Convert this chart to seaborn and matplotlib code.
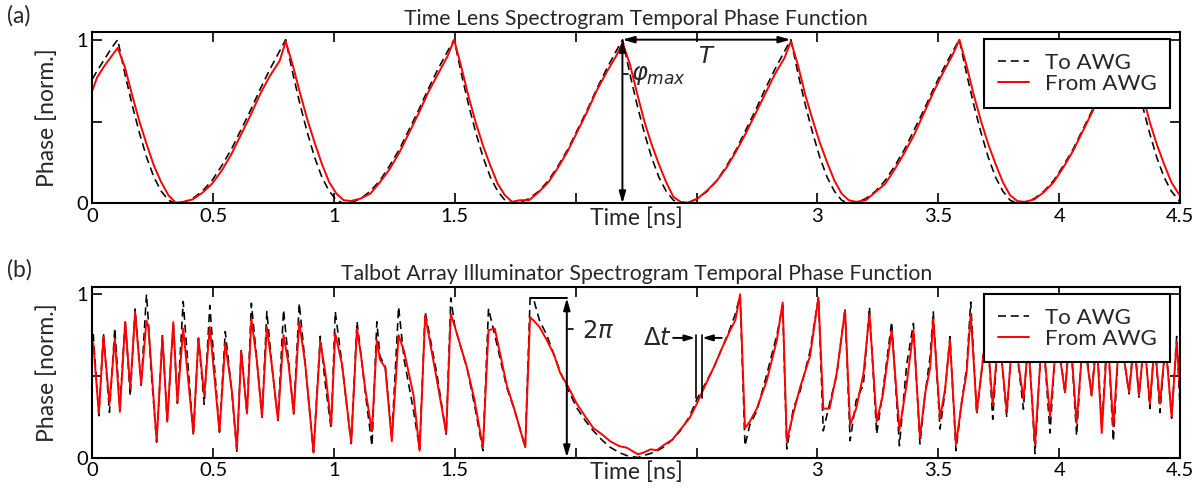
import numpy as np
import matplotlib
matplotlib.use("Agg")
import matplotlib.pyplot as plt
import seaborn as sns

# ---------------- data ----------------
# Panel (a): time lens phase
ta = [0.0, 0.02, 0.05, 0.08,
      0.105, 0.135, 0.165, 0.195, 0.225, 0.255, 0.285, 0.315, 0.345, 0.375,
      0.415, 0.455, 0.495, 0.535, 0.575, 0.615, 0.655, 0.695, 0.735, 0.775,
      0.80, 0.83, 0.86, 0.89, 0.92, 0.95, 0.98, 1.01, 1.04, 1.07,
      1.11, 1.15, 1.19, 1.23, 1.27, 1.31, 1.35, 1.39, 1.43, 1.47,
      1.497, 1.527, 1.557, 1.587, 1.617, 1.647, 1.677, 1.707, 1.737, 1.767,
      1.807, 1.847, 1.887, 1.927, 1.967, 2.007, 2.047, 2.087, 2.127, 2.167,
      2.194, 2.224, 2.254, 2.284, 2.314, 2.344, 2.374, 2.404, 2.434, 2.464,
      2.504, 2.544, 2.584, 2.624, 2.664, 2.704, 2.744, 2.784, 2.824, 2.864,
      2.89, 2.92, 2.95, 2.98, 3.01, 3.04, 3.07, 3.10, 3.13, 3.16,
      3.20, 3.24, 3.28, 3.32, 3.36, 3.40, 3.44, 3.48, 3.52, 3.56,
      3.587, 3.617, 3.647, 3.677, 3.707, 3.737, 3.767, 3.797, 3.827, 3.857,
      3.897, 3.937, 3.977, 4.017, 4.057, 4.097, 4.137, 4.177, 4.217, 4.257,
      4.284, 4.314, 4.344, 4.374, 4.404, 4.434, 4.464, 4.494, 4.5]
to_awg_a = [0.76, 0.81, 0.88, 0.95,
            1.0, 0.79, 0.60, 0.43, 0.28, 0.16, 0.075, 0.02, 0.0, 0.005,
            0.03, 0.075, 0.14, 0.23, 0.33, 0.45, 0.57, 0.70, 0.82, 0.93,
            1.0, 0.79, 0.60, 0.43, 0.28, 0.16, 0.075, 0.02, 0.0, 0.005,
            0.03, 0.075, 0.14, 0.23, 0.33, 0.45, 0.57, 0.70, 0.82, 0.93,
            1.0, 0.79, 0.60, 0.43, 0.28, 0.16, 0.075, 0.02, 0.0, 0.005,
            0.03, 0.075, 0.14, 0.23, 0.33, 0.45, 0.57, 0.70, 0.82, 0.93,
            1.0, 0.79, 0.60, 0.43, 0.28, 0.16, 0.075, 0.02, 0.0, 0.005,
            0.03, 0.075, 0.14, 0.23, 0.33, 0.45, 0.57, 0.70, 0.82, 0.93,
            1.0, 0.79, 0.60, 0.43, 0.28, 0.16, 0.075, 0.02, 0.0, 0.005,
            0.03, 0.075, 0.14, 0.23, 0.33, 0.45, 0.57, 0.70, 0.82, 0.93,
            1.0, 0.79, 0.60, 0.43, 0.28, 0.16, 0.075, 0.02, 0.0, 0.005,
            0.03, 0.075, 0.14, 0.23, 0.33, 0.45, 0.57, 0.70, 0.82, 0.93,
            1.0, 0.79, 0.60, 0.43, 0.28, 0.16, 0.075, 0.02, 0.01]
from_awg_a = [0.69, 0.77, 0.84, 0.90,
              0.95, 0.83, 0.66, 0.50, 0.36, 0.23, 0.13, 0.05, 0.005, 0.01,
              0.025, 0.065, 0.12, 0.20, 0.30, 0.42, 0.54, 0.67, 0.78, 0.87,
              0.99, 0.84, 0.67, 0.51, 0.37, 0.24, 0.13, 0.06, 0.02, 0.015,
              0.03, 0.06, 0.13, 0.21, 0.31, 0.43, 0.55, 0.68, 0.79, 0.90,
              1.0, 0.83, 0.65, 0.49, 0.35, 0.23, 0.12, 0.05, 0.01, 0.02,
              0.02, 0.07, 0.13, 0.22, 0.32, 0.44, 0.56, 0.69, 0.80, 0.90,
              0.98, 0.85, 0.67, 0.50, 0.36, 0.24, 0.13, 0.04, 0.01, 0.005,
              0.03, 0.08, 0.14, 0.22, 0.32, 0.43, 0.55, 0.67, 0.79, 0.89,
              0.99, 0.84, 0.66, 0.51, 0.37, 0.25, 0.14, 0.06, 0.02, 0.01,
              0.02, 0.07, 0.12, 0.21, 0.31, 0.42, 0.55, 0.68, 0.80, 0.91,
              1.0, 0.84, 0.66, 0.50, 0.36, 0.24, 0.13, 0.05, 0.015, 0.01,
              0.025, 0.07, 0.13, 0.22, 0.32, 0.44, 0.56, 0.69, 0.80, 0.90,
              0.97, 0.84, 0.67, 0.50, 0.36, 0.24, 0.13, 0.06, 0.05]

# Panel (b): Talbot array illuminator phase
tb = [0.000, 0.004, 0.027, 0.046, 0.071, 0.093, 0.114, 0.136, 0.157, 0.177,
      0.202, 0.224, 0.232, 0.242, 0.266, 0.290, 0.310, 0.335, 0.352, 0.376,
      0.418, 0.439, 0.463, 0.486, 0.526, 0.550, 0.578, 0.598, 0.616, 0.640,
      0.658, 0.681, 0.702, 0.722, 0.743, 0.768, 0.791, 0.812, 0.833, 0.856,
      0.881, 0.915, 0.943, 0.964, 0.988, 1.005, 1.033, 1.071, 1.095, 1.112,
      1.129, 1.157, 1.177, 1.190, 1.212, 1.239, 1.267, 1.290, 1.329, 1.354,
      1.377, 1.426, 1.464, 1.483, 1.500, 1.550, 1.580, 1.616, 1.639, 1.665,
      1.715, 1.745, 1.791, 1.811, 1.825, 1.850, 1.880, 1.910, 1.935, 1.970,
      2.004, 2.040, 2.073, 2.110, 2.142, 2.180, 2.211, 2.257, 2.280, 2.310,
      2.335, 2.363, 2.400, 2.432, 2.470, 2.501, 2.535, 2.570, 2.605, 2.639,
      2.660, 2.680, 2.700, 2.720, 2.749, 2.790, 2.832, 2.856, 2.873, 2.900,
      2.928, 2.969, 3.004, 3.024, 3.050, 3.080, 3.114, 3.135, 3.160, 3.190,
      3.215, 3.245, 3.270, 3.307, 3.339, 3.369, 3.397, 3.424, 3.445, 3.466,
      3.479, 3.507, 3.528, 3.548, 3.573, 3.597, 3.617, 3.634, 3.659, 3.679,
      3.700, 3.725, 3.750, 3.783, 3.810, 3.852, 3.872, 3.900, 3.930, 3.962,
      3.990, 4.024, 4.045, 4.072, 4.100, 4.134, 4.155, 4.176, 4.200, 4.224,
      4.250, 4.289, 4.310, 4.330, 4.352, 4.375, 4.395, 4.417, 4.440, 4.465,
      4.486, 4.500]
to_awg_b = [0.75, 0.753, 0.256, 0.762, 0.276, 0.793, 0.31, 0.843, 0.377, 0.91,
            0.443, 1.0, 0.834, 0.555, 0.094, 0.747, 0.225, 0.823, 0.332, 0.956,
            0.134, 0.732, 0.326, 0.932, 0.155, 0.772, 0.388, 0.034, 0.662, 0.267,
            0.945, 0.591, 0.247, 0.895, 0.561, 0.227, 0.905, 0.591, 0.267, 0.945,
            0.571, 0.034, 0.743, 0.449, 0.176, 0.895, 0.571, 0.085, 0.834, 0.62,
            0.40, 0.072, 0.832, 0.62, 0.558, 0.123, 0.923, 0.60, 0.285, 0.052,
            0.893, 0.508, 0.143, 0.978, 0.80, 0.548, 0.33, 0.042, 0.913, 0.75,
            0.427, 0.30, 0.063, 0.974, 0.974, 0.84, 0.751, 0.63, 0.528, 0.41,
            0.305, 0.225, 0.163, 0.105, 0.063, 0.03, 0.012, 0.0, 0.012, 0.025,
            0.04, 0.063, 0.11, 0.163, 0.25, 0.356, 0.45, 0.548, 0.67, 0.792,
            0.88, 0.994, 0.072, 0.20, 0.285, 0.508, 0.751, 0.933, 0.052, 0.30,
            0.407, 0.65, 0.984, 0.163, 0.33, 0.508, 0.913, 0.103, 0.35, 0.447,
            0.923, 0.143, 0.40, 0.832, 0.072, 0.569, 0.822, 0.083, 0.386, 0.619,
            0.893, 0.174, 0.407, 0.741, 0.042, 0.346, 0.548, 0.953, 0.265, 0.528,
            0.85, 0.234, 0.80, 0.247, 0.85, 0.296, 0.75, 0.024, 0.82, 0.15,
            0.80, 0.39, 0.80, 0.134, 0.80, 0.38, 0.75, 0.186, 0.78, 0.10,
            0.80, 0.39, 0.75, 0.37, 0.75, 0.30, 0.72, 0.276, 0.72, 0.24,
            0.742, 0.30]
from_awg_b = [0.69, 0.70, 0.27, 0.74, 0.33, 0.73, 0.28, 0.83, 0.42, 0.89,
              0.45, 0.84, 0.80, 0.60, 0.10, 0.74, 0.22, 0.83, 0.34, 0.79,
              0.15, 0.73, 0.38, 0.80, 0.16, 0.70, 0.40, 0.05, 0.65, 0.27,
              0.85, 0.59, 0.25, 0.80, 0.56, 0.23, 0.75, 0.57, 0.27, 0.83,
              0.57, 0.03, 0.71, 0.52, 0.20, 0.76, 0.57, 0.09, 0.79, 0.62,
              0.42, 0.16, 0.72, 0.60, 0.55, 0.10, 0.75, 0.65, 0.38, 0.042,
              0.87, 0.47, 0.15, 0.88, 0.80, 0.55, 0.36, 0.062, 0.78, 0.79,
              0.44, 0.30, 0.063, 0.86, 0.84, 0.80, 0.72, 0.63, 0.52, 0.43,
              0.33, 0.25, 0.18, 0.14, 0.10, 0.07, 0.06, 0.02, 0.03, 0.05,
              0.045, 0.075, 0.11, 0.17, 0.24, 0.33, 0.44, 0.55, 0.67, 0.78,
              0.84, 1.0, 0.18, 0.22, 0.30, 0.47, 0.72, 0.95, 0.10, 0.27,
              0.43, 0.62, 0.98, 0.30, 0.30, 0.52, 0.90, 0.20, 0.30, 0.51,
              0.88, 0.22, 0.38, 0.78, 0.17, 0.45, 0.78, 0.12, 0.39, 0.55,
              0.85, 0.24, 0.42, 0.72, 0.08, 0.34, 0.52, 0.88, 0.28, 0.53,
              0.80, 0.32, 0.78, 0.28, 0.80, 0.36, 0.70, 0.08, 0.78, 0.25,
              0.75, 0.40, 0.78, 0.21, 0.76, 0.38, 0.72, 0.15, 0.75, 0.19,
              0.78, 0.40, 0.70, 0.38, 0.72, 0.33, 0.70, 0.33, 0.70, 0.25,
              0.71, 0.40]

xtick_vals = [0, 0.5, 1, 1.5, 2, 2.5, 3, 3.5, 4, 4.5]
xtick_labels = ['0', '0.5', '1', '1.5', '', '', '3', '3.5', '4', '4.5']
ytick_vals = [0, 0.5, 1]
ytick_labels = ['0', '', '1']

# ---------------- style ----------------
sns.set_style("ticks")
plt.rcParams['font.family'] = ['Lato', 'DejaVu Sans']
plt.rcParams['mathtext.fontset'] = 'dejavusans'

fig = plt.figure(figsize=(11.99, 4.90), dpi=100)
ax1 = fig.add_axes([0.077, 0.5847, 0.9072, 0.3494])
ax2 = fig.add_axes([0.077, 0.0663, 0.9072, 0.3480])

dash = (0, (5, 3))


def draw(ax, t, a, b, title):
    sns.lineplot(x=t, y=a, ax=ax, color='black', lw=1.15, linestyle=dash,
                 label='To AWG', estimator=None, sort=False)
    sns.lineplot(x=t, y=b, ax=ax, color='red', lw=1.4,
                 label='From AWG', estimator=None, sort=False)
    ax.set_xlim(0, 4.5)
    ax.set_ylim(0, 1.045)
    ax.set_xticks(xtick_vals)
    ax.set_xticklabels(xtick_labels)
    ax.set_yticks(ytick_vals)
    ax.set_yticklabels(ytick_labels)
    ax.tick_params(direction='in', top=True, right=True, length=7, width=1.2,
                   labelsize=14.5, pad=3, colors='black')
    for s in ax.spines.values():
        s.set_linewidth(1.5)
        s.set_color('black')
    ax.set_xlabel('Time [ns]', fontsize=16.5)
    ax.xaxis.set_label_coords(0.5, -0.02)
    ax.set_ylabel('Phase [norm.]', fontsize=16.5)
    ax.yaxis.set_label_coords(-0.032, 0.5)
    ax.set_title(title, fontsize=15.3, pad=5)
    leg = ax.legend(loc='upper right', bbox_to_anchor=(0.9908, 0.96),
                    borderaxespad=0, frameon=True, fancybox=False,
                    edgecolor='black', framealpha=1, fontsize=16,
                    handlelength=1.4, handletextpad=0.7, borderpad=0.62,
                    labelspacing=0.05)
    leg.get_frame().set_linewidth(1.5)


draw(ax1, ta, to_awg_a, from_awg_a, 'Time Lens Spectrogram Temporal Phase Function')
draw(ax2, tb, to_awg_b, from_awg_b,
     'Talbot Array Illuminator Spectrogram Temporal Phase Function')

arw = dict(arrowstyle='<|-|>,head_length=0.7,head_width=0.2', color='black',
           lw=1.4, shrinkA=0, shrinkB=0)
one = dict(arrowstyle='-|>,head_length=0.6,head_width=0.18', color='black',
           lw=1.4, shrinkA=0, shrinkB=0)

# panel (a) annotations
ax1.annotate('', xy=(2.193, 0.0), xytext=(2.193, 1.0), arrowprops=arw)
ax1.annotate('', xy=(2.889, 1.0), xytext=(2.193, 1.0), arrowprops=arw)
ax1.text(2.543, 0.90, r'$T$', ha='center', va='center', fontsize=16.5)
ax1.plot([2.195, 2.215], [0.79, 0.79], color='black', lw=1.2)
ax1.text(2.228, 0.78, r'$\varphi_{max}$', ha='left', va='center', fontsize=17.5)

# panel (b) annotations
ax2.plot([1.811, 1.963], [0.977, 0.977], color='black', lw=1.4)
ax2.annotate('', xy=(1.963, 0.0), xytext=(1.963, 0.977), arrowprops=arw)
ax2.plot([1.968, 1.99], [0.79, 0.79], color='black', lw=1.2)
ax2.text(2.025, 0.775, r'$2\pi$', ha='left', va='center', fontsize=17.5)
ax2.plot([2.496, 2.496], [0.362, 0.749], color='black', lw=1.2)
ax2.plot([2.521, 2.521], [0.362, 0.749], color='black', lw=1.2)
ax2.annotate('', xy=(2.494, 0.733), xytext=(2.403, 0.733), arrowprops=one)
ax2.annotate('', xy=(2.523, 0.733), xytext=(2.604, 0.733), arrowprops=one)
ax2.text(2.397, 0.73, r'$\mathit{\Delta t}$', ha='right', va='center', fontsize=17.5)

fig.text(0.0158, 0.967, '(a)', ha='center', va='center', fontsize=16.5)
fig.text(0.0158, 0.449, '(b)', ha='center', va='center', fontsize=16.5)

fig.savefig('out.png', dpi=100)
